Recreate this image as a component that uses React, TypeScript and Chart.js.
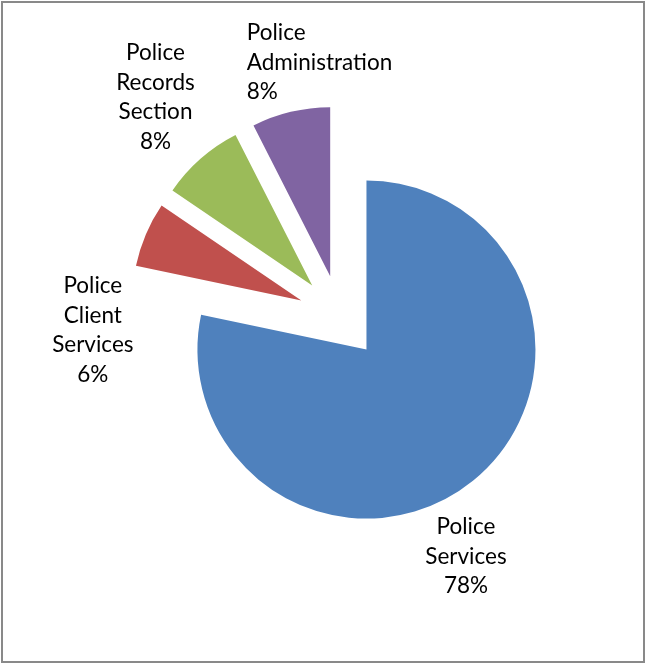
import React, { useEffect, useRef } from "react";
import { Chart, registerables } from "chart.js";

Chart.register(...registerables);

const categories = [
  "Police Services",
  "Police Client Services",
  "Police Records Section",
  "Police Administration",
];
const values = [78.3, 6.2, 8.0, 7.5];
const colors = ["#4F81BD", "#C0504D", "#9BBB59", "#8064A2"];

// layout constants (not data)
const EXPLODE = 42;
const RADIUS = 169;
const FONT_SIZE = 22.5;
const LINE_HEIGHT = 29.5;
const CAP = 16;
// label block shift relative to the slice's outer mid point
const labelShift: [number, number][] = [
  [-7, 75],
  [-53, 95],
  [-45, -62],
  [-44, -50],
];
const labelAlign: CanvasTextAlign[] = ["center", "center", "center", "left"];

const explodePlugin = {
  id: "explodePie",
  beforeDatasetDraw(chart: any, args: any) {
    const ctx = chart.ctx;
    args.meta.data.forEach((arc: any) => {
      const mid = (arc.startAngle + arc.endAngle) / 2;
      ctx.save();
      ctx.translate(Math.cos(mid) * EXPLODE, Math.sin(mid) * EXPLODE);
      arc.draw(ctx, chart.chartArea);
      ctx.restore();
    });
    return false;
  },
  afterDatasetsDraw(chart: any) {
    const ctx = chart.ctx;
    const meta = chart.getDatasetMeta(0);
    const data = chart.data.datasets[0].data as number[];
    const total = data.reduce((a, b) => a + b, 0);
    ctx.save();
    ctx.fillStyle = "#000";
    ctx.font = `${FONT_SIZE}px Lato`;
    ctx.textBaseline = "alphabetic";
    meta.data.forEach((arc: any, i: number) => {
      const mid = (arc.startAngle + arc.endAngle) / 2;
      const r = EXPLODE + arc.outerRadius;
      const ox = arc.x + Math.cos(mid) * r;
      const oy = arc.y + Math.sin(mid) * r;
      const lines = String(chart.data.labels[i]).split(" ");
      lines.push(Math.round((data[i] / total) * 100) + "%");
      const cx = ox + labelShift[i][0];
      const cy = oy + labelShift[i][1];
      const first = cy - ((lines.length - 1) / 2) * LINE_HEIGHT + CAP / 2;
      ctx.textAlign = labelAlign[i];
      lines.forEach((ln, k) => {
        ctx.fillText(ln, cx, first + k * LINE_HEIGHT);
      });
    });
    ctx.restore();
  },
  afterDraw(chart: any) {
    const ctx = chart.ctx;
    ctx.save();
    ctx.strokeStyle = "#898989";
    ctx.lineWidth = 2;
    ctx.strokeRect(2, 2, 642, 660);
    ctx.restore();
  },
};

export default function App() {
  const ref = useRef<HTMLCanvasElement>(null);
  useEffect(() => {
    if (!ref.current) return;
    const chart = new Chart(ref.current, {
      type: "pie",
      data: {
        labels: categories,
        datasets: [
          {
            data: values,
            backgroundColor: colors,
            borderWidth: 0,
            radius: RADIUS,
          } as any,
        ],
      },
      options: {
        responsive: false,
        animation: false,
        layout: { padding: { left: 34, right: 0, top: 0, bottom: 30 } },
        plugins: {
          legend: { display: false },
          tooltip: { enabled: false },
        },
        events: [],
      },
      plugins: [explodePlugin],
    });
    return () => chart.destroy();
  }, []);
  return (
    <div style={{ position: "absolute", left: 0, top: 0, width: 646, height: 664, background: "#fff" }}>
      <canvas ref={ref} width={646} height={664} style={{ display: "block" }} />
    </div>
  );
}
